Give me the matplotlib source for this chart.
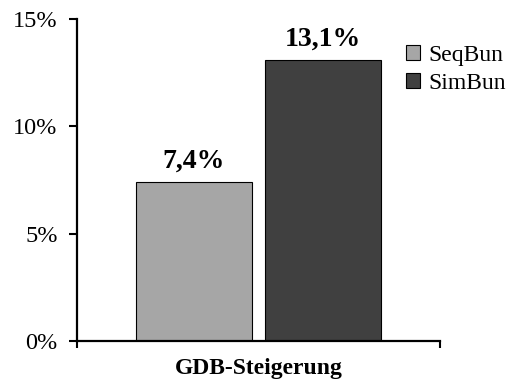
import matplotlib
matplotlib.use("Agg")
import matplotlib.pyplot as plt
from matplotlib.ticker import FuncFormatter

plt.rcParams['font.family'] = ['Liberation Serif', 'DejaVu Serif']

category = "GDB-Steigerung"
series = ["SeqBun", "SimBun"]
values = [7.4, 13.1]
colors = ["#a6a6a6", "#404040"]
yticks = [0, 5, 10, 15]

fig = plt.figure(figsize=(5.08, 3.83), dpi=100)
ax = fig.add_axes([0.1516, 0.1097, 0.7146, 0.8407])

width = 0.32
offsets = [-0.178, 0.178]
for name, val, col, off in zip(series, values, colors, offsets):
    bars = ax.bar(0.5 + off, val, width=width, color=col, edgecolor="black",
                  linewidth=0.8, label=name)
    ax.annotate(f"{val:.1f}".replace(".", ",") + "%", (0.5 + off, val),
                xytext=(0, 6), textcoords="offset points", ha="center",
                va="bottom", fontsize=20, fontweight="bold")

ax.set_xlim(0, 1)
ax.set_ylim(0, 15)
ax.set_yticks(yticks)
ax.yaxis.set_major_formatter(FuncFormatter(lambda v, p: f"{int(v)}%"))
ax.set_xticks([0, 1])
ax.set_xticklabels(["", ""])
ax.set_xticks([0.5], labels=[category], minor=True)
ax.tick_params(axis="x", which="minor", length=0, pad=12, labelsize=17)
for lab in ax.get_xticklabels(minor=True):
    lab.set_fontweight("bold")
ax.tick_params(axis="x", which="major", length=5, width=1.5, direction="out")
ax.tick_params(axis="y", length=6, width=1.5, direction="out", labelsize=17.5, pad=8)

for s in ["top", "right"]:
    ax.spines[s].set_visible(False)
for s in ["left", "bottom"]:
    ax.spines[s].set_linewidth(1.6)

ax.legend(loc="upper left", bbox_to_anchor=(0.88, 0.95), frameon=False,
          fontsize=17, handlelength=0.6, handleheight=0.6, handletextpad=0.35,
          labelspacing=0.3, borderaxespad=0)

fig.savefig("out.png", dpi=100)
